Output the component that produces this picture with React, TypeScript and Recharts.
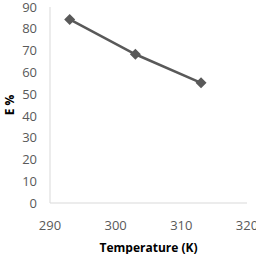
import { LineChart, Line, XAxis, YAxis } from "recharts";

const temperatures = [293, 303, 313];
const efficiency = [84.3, 68.3, 55.2];
const xTicks = [290, 300, 310, 320];
const yTicks = [0, 10, 20, 30, 40, 50, 60, 70, 80, 90];

const data = temperatures.map((t, i) => ({ t, e: efficiency[i] }));

const Diamond = (props: any) => {
  const { cx, cy } = props;
  if (cx == null || cy == null) return null;
  const r = 5.5;
  return (
    <polygon
      points={`${cx},${cy - r} ${cx + r},${cy} ${cx},${cy + r} ${cx - r},${cy}`}
      fill="#595959"
    />
  );
};

const tickStyle = { fill: "#595959", fontSize: 13, fontFamily: "Open Sans" };
const titleStyle = { fill: "#000", fontSize: 12, fontWeight: "bold", fontFamily: "Open Sans" };

export default function App() {
  return (
    <div style={{ position: "absolute", left: 0, top: 0 }}>
      <LineChart
        width={256}
        height={254}
        data={data}
        margin={{ top: 7, right: 9, left: 0, bottom: 0 }}
      >
        <XAxis
          dataKey="t"
          type="number"
          domain={[290, 320]}
          ticks={xTicks}
          interval={0}
          tickLine={false}
          tickMargin={12}
          height={51}
          stroke="#d9d9d9"
          tick={tickStyle}
          label={{
            value: "Temperature (K)",
            position: "insideBottom",
            offset: 2,
            style: titleStyle,
          }}
        />
        <YAxis
          type="number"
          domain={[0, 90]}
          ticks={yTicks}
          interval={0}
          tickLine={false}
          tickMargin={7}
          width={50}
          stroke="#d9d9d9"
          tick={tickStyle}
          label={{
            value: "E %",
            angle: -90,
            position: "insideLeft",
            offset: 10,
            style: { ...titleStyle, textAnchor: "middle" },
          }}
        />
        <Line
          dataKey="e"
          stroke="#595959"
          strokeWidth={2.5}
          dot={<Diamond />}
          activeDot={false}
          isAnimationActive={false}
        />
      </LineChart>
    </div>
  );
}
